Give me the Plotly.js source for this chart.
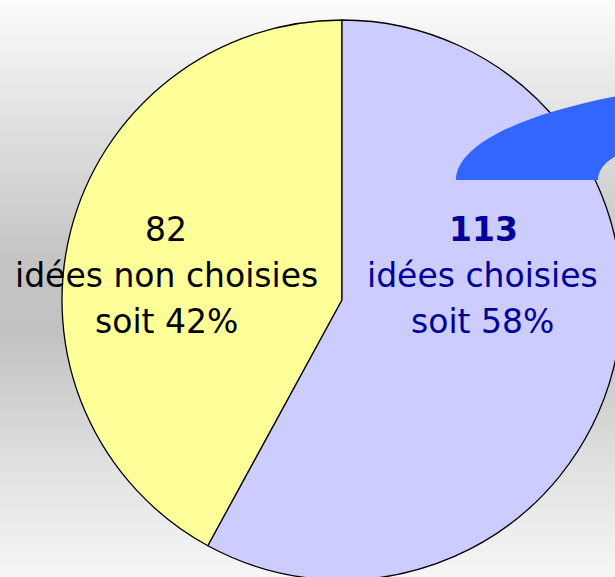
<!DOCTYPE html>
<html>
<head>
<meta charset="utf-8">
<script src="https://cdn.plot.ly/plotly-3.0.1.min.js"></script>
<style>
  html, body { margin: 0; padding: 0; overflow: hidden; }
  body {
    width: 615px; height: 577px;
    background: linear-gradient(to bottom, #fbfbfb 0%, #ececec 12%, #c4c4c4 45%, #c2c2c2 58%, #e6e6e6 85%, #f6f6f6 100%);
  }
  #plot { width: 640px; height: 610px; }
</style>
</head>
<body>
<div id="plot"></div>
<script>
// chart data
var labels = ["idées non choisies", "idées choisies"];
var counts = [82, 113];
var percents = ["42%", "58%"];
var sliceColors = ["#FFFF99", "#CCCCFF"];

var W = 640, H = 610;
// pixel -> paper helpers
function px(x) { return x / W; }
function py(y) { return 1 - y / H; }

// first slice should end at 12 o'clock, sitting on the left
var firstShare = counts[0] / (counts[0] + counts[1]);

var trace = {
  type: "pie",
  values: counts,
  labels: labels,
  sort: false,
  direction: "clockwise",
  rotation: 360 - firstShare * 360,
  textinfo: "none",
  hoverinfo: "skip",
  showlegend: false,
  marker: { colors: sliceColors, line: { color: "#000000", width: 1.3 } },
  domain: { x: [px(62), px(622)], y: [py(580), py(20)] }
};

var font = "DejaVu Sans";
var annotations = [
  // left block
  { x: px(166), y: py(230), text: String(counts[0]), font: { family: font, size: 33, color: "#000000" } },
  { x: px(166), y: py(276), text: labels[0], font: { family: font, size: 33, color: "#000000" } },
  { x: px(166), y: py(321), text: "soit " + percents[0], font: { family: font, size: 33, color: "#000000" } },
  // right block
  { x: px(483), y: py(230), text: "<b>" + counts[1] + "</b>", font: { family: font, size: 33, color: "#000099" } },
  { x: px(482), y: py(276), text: labels[1], font: { family: font, size: 33, color: "#000099" } },
  { x: px(482), y: py(321), text: "soit " + percents[1], font: { family: font, size: 33, color: "#000099" } }
].map(function (a) {
  a.xref = "paper"; a.yref = "paper";
  a.xanchor = "center"; a.yanchor = "middle";
  a.showarrow = false;
  return a;
});

// blue arrow fragment at top right
function P(x, y) { return px(x) + "," + py(y); }
var arrowPath = "M" + P(456, 180) +
  " C" + P(456, 140) + " " + P(540, 108) + " " + P(640, 92) +
  " L" + P(640, 150) +
  " C" + P(615, 152) + " " + P(598, 165) + " " + P(598, 180) + " Z";

var layout = {
  width: W,
  height: H,
  margin: { l: 0, r: 0, t: 0, b: 0 },
  paper_bgcolor: "rgba(0,0,0,0)",
  plot_bgcolor: "rgba(0,0,0,0)",
  annotations: annotations,
  shapes: [{
    type: "path", xref: "paper", yref: "paper", layer: "above",
    path: arrowPath, fillcolor: "#3366FF", line: { width: 0 }
  }]
};

Plotly.newPlot("plot", [trace], layout, { displayModeBar: false, staticPlot: true });
</script>
</body>
</html>
